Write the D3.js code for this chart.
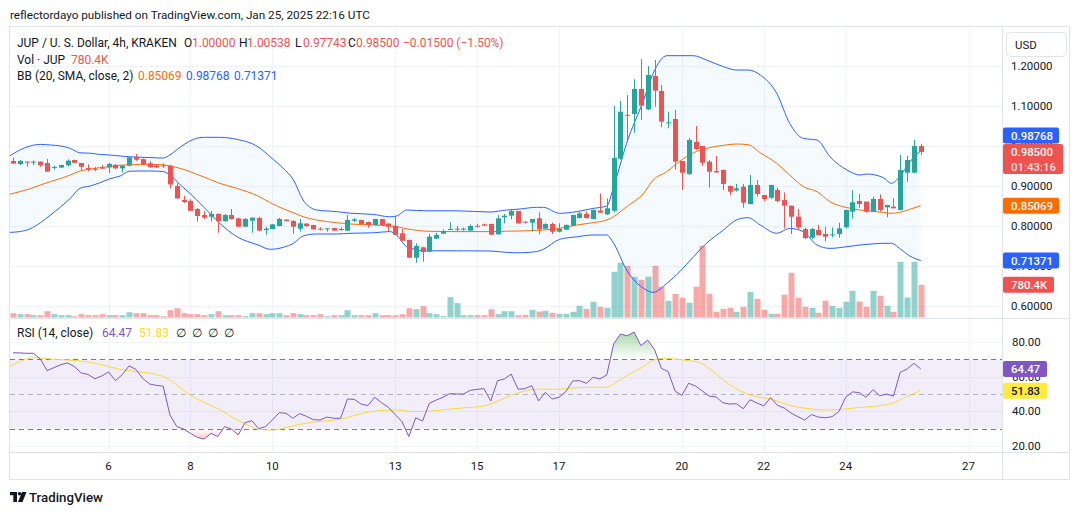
<!DOCTYPE html>
<html><head><meta charset="utf-8">
<script src="https://cdn.jsdelivr.net/npm/d3@7"></script>
<style>
html,body{margin:0;padding:0;background:#fff;}
svg{display:block;}
</style></head><body>
<svg id="c" width="1080" height="515"></svg>
<script>
// ---------------- DATA ----------------
const startTime = Date.UTC(2025, 0, 3, 16); // first 4h candle
const open = [0.9625,0.955,0.961,0.959,0.961,0.9575,0.945,0.946,0.9517,0.965,
0.9575,0.945,0.943,0.946,0.9467,0.953,0.944,0.951,0.9725,0.967,
0.9567,0.9517,0.9517,0.9508,0.9,0.865,0.8625,0.8425,0.8275,0.8233,
0.83,0.8125,0.8275,0.819,0.7983,0.8133,0.82,0.79,0.7925,0.8,
0.816,0.8125,0.7933,0.806,0.8025,0.7933,0.7925,0.795,0.791,0.7883,
0.8133,0.815,0.81,0.8025,0.8175,0.806,0.8008,0.7817,0.765,0.7208,
0.7467,0.7358,0.7683,0.7808,0.7917,0.7917,0.7908,0.7883,0.8008,0.8042,
0.805,0.7792,0.8217,0.8258,0.8375,0.8108,0.8083,0.8192,0.7933,0.805,
0.7858,0.7908,0.8008,0.82,0.83,0.8175,0.8383,0.8292,0.8383,0.9683,
1.078,1.08,1.1425,1.0917,1.175,1.1375,1.0567,1.0675,0.9625,0.93,
1.01,1.0,0.9608,0.9375,0.94,0.9,0.889,0.8983,0.855,0.9025,
0.8775,0.8708,0.89,0.865,0.8508,0.8233,0.7925,0.7708,0.79,0.78,
0.7775,0.78,0.7967,0.8358,0.8625,0.8608,0.8358,0.8675,0.8467,0.8483,
0.84,0.9333,0.9333,1.0];
const high = [0.971,0.965,0.9615,0.964,0.961,0.9675,0.951,0.953,0.9667,0.966,
0.958,0.954,0.948,0.953,0.958,0.955,0.952,0.9733,0.98,0.969,
0.963,0.953,0.9567,0.952,0.907,0.875,0.867,0.845,0.8375,0.8375,
0.832,0.83,0.8425,0.821,0.82,0.822,0.8233,0.798,0.805,0.82,
0.817,0.815,0.8175,0.807,0.803,0.7967,0.795,0.796,0.7967,0.8275,
0.82,0.816,0.811,0.818,0.818,0.807,0.8233,0.7925,0.766,0.7567,
0.748,0.78,0.7833,0.7917,0.809,0.8,0.796,0.8042,0.8058,0.806,
0.806,0.8275,0.83,0.84,0.8383,0.812,0.8175,0.8342,0.807,0.809,
0.8067,0.804,0.828,0.8358,0.8358,0.841,0.8817,0.869,1.1,1.1125,
1.1275,1.1667,1.2175,1.2,1.215,1.1525,1.0858,1.09,0.9625,1.02,
1.05,1.0,0.965,0.975,0.941,0.901,0.905,0.905,0.9275,0.915,
0.878,0.903,0.896,0.884,0.851,0.8425,0.7958,0.7958,0.8025,0.7983,
0.7967,0.8083,0.841,0.89,0.88,0.861,0.8733,0.879,0.853,0.8692,
0.9775,0.975,1.015,1.00538];
const low = [0.955,0.952,0.948,0.9525,0.948,0.935,0.941,0.945,0.949,0.957,
0.94,0.937,0.937,0.942,0.932,0.942,0.934,0.949,0.963,0.953,
0.946,0.945,0.945,0.894,0.867,0.858,0.837,0.811,0.8175,0.811,
0.7833,0.81,0.816,0.797,0.797,0.7833,0.787,0.778,0.792,0.799,
0.812,0.781,0.786,0.798,0.791,0.789,0.786,0.788,0.788,0.787,
0.81,0.804,0.7958,0.802,0.802,0.7875,0.777,0.762,0.72,0.7083,
0.7108,0.735,0.767,0.78,0.791,0.7858,0.788,0.788,0.796,0.8,
0.777,0.778,0.8067,0.8167,0.806,0.806,0.786,0.7792,0.792,0.78,
0.784,0.79,0.8,0.819,0.819,0.817,0.833,0.8275,0.834,0.966,
1.009,1.0333,1.065,1.09,1.0983,1.0467,1.0442,0.9417,0.89,0.928,
0.99,0.95,0.896,0.933,0.89,0.8775,0.886,0.846,0.854,0.8733,
0.8625,0.8675,0.8592,0.794,0.78,0.7925,0.7675,0.7675,0.776,0.7617,
0.7717,0.7708,0.794,0.8183,0.845,0.8333,0.835,0.8358,0.8217,0.844,
0.8392,0.9108,0.932,0.97743];
const close = [0.956,0.9625,0.959,0.961,0.952,0.936,0.9475,0.9525,0.9633,0.958,
0.948,0.9425,0.941,0.944,0.955,0.944,0.951,0.9717,0.9658,0.954,
0.9467,0.947,0.95,0.904,0.869,0.86,0.838,0.825,0.821,0.83,
0.8125,0.8275,0.8175,0.7983,0.8175,0.8208,0.7883,0.7933,0.804,0.8175,
0.8125,0.7983,0.8067,0.8,0.7917,0.7917,0.7942,0.7883,0.7925,0.815,
0.8167,0.805,0.8025,0.8175,0.8025,0.7983,0.7775,0.7633,0.7208,0.75,
0.735,0.7733,0.7775,0.7875,0.7925,0.7933,0.7933,0.8,0.7983,0.8008,
0.7783,0.819,0.8258,0.8375,0.8067,0.8083,0.8175,0.7917,0.805,0.7858,
0.7933,0.8025,0.8275,0.8317,0.82,0.84,0.8333,0.8442,0.97,1.0858,
1.0767,1.1425,1.1008,1.1775,1.1383,1.0608,1.0592,0.9608,0.9333,1.015,
0.9925,0.9583,0.9358,0.9342,0.905,0.8858,0.894,0.8583,0.9025,0.88,
0.8675,0.9025,0.8625,0.8508,0.8233,0.7967,0.77,0.7925,0.7775,0.7733,
0.7792,0.7942,0.84,0.8592,0.855,0.8358,0.8675,0.84,0.8525,0.8442,
0.94,0.965,1.0,0.985];
// volume in thousands of JUP
const volume = [103,79,79,55,55,150,79,55,55,31,
79,55,55,79,55,55,55,127,103,103,
55,55,31,174,222,103,79,79,55,79,
150,55,55,55,31,103,103,79,103,103,
55,103,79,55,55,79,31,55,55,174,
55,55,55,103,55,55,55,79,222,198,
270,103,79,31,485,341,55,55,55,55,
198,79,150,150,55,64,184,143,160,112,
88,88,136,279,208,375,255,232,1091,1306,
1234,972,900,972,1234,733,399,566,473,351,
733,1711,566,136,208,232,136,255,613,446,
184,88,88,542,1067,470,255,232,112,399,
279,232,375,637,382,255,637,518,279,136,
1330,477,1330,780.4];
// Bollinger Bands (20, SMA, close, 2) read at candle positions
const bbIdx = [-0.5,1,2.5,4,5.5,7,8.4,9.8,11.3,12.7,14.2,15.7,17.1,18.6,20.1,22,23,24.5,25.9,27.9,
30.3,32.8,35.9,37.7,39.6,41.1,42.5,44.5,47.4,49.4,52.8,55.2,56.2,57.7,60.6,65,69.9,72.3,74.3,76.7,
77.7,80.1,82.6,85,87,88,89.9,92.4,93.8,95.8,97.7,99.7,101.6,104.1,106,107.7,109.5,111.9,113.8,115.8,
117.8,119.7,122.2,124.1,125.1,127.5,128.7,129.9,131.4,133];
const bbUpper = [0.975,0.99,1.0,1.004,1.0025,1.0,0.994,0.983,0.982,0.979,0.9775,0.975,0.973,0.972,0.971,0.97,0.978,0.997,1.0125,1.0217,
1.0217,1.0167,0.998,0.973,0.944,0.915,0.865,0.84,0.836,0.832,0.829,0.823,0.825,0.84,0.838,0.838,0.835,0.84,0.8425,0.8467,
0.8467,0.8317,0.836,0.844,0.85,0.898,1.0067,1.115,1.1817,1.2258,1.2258,1.2258,1.215,1.1983,1.19,1.19,1.1775,1.1317,1.0567,1.019,
1.015,0.9733,0.94,0.9275,0.93,0.921,0.9067,0.923,0.96,0.98768];
const bbMiddle = [0.879,0.886,0.893,0.9025,0.911,0.919,0.9275,0.9375,0.942,0.946,0.948,0.952,0.953,0.954,0.954,0.953,0.95,0.944,0.936,0.923,
0.9067,0.894,0.875,0.8583,0.843,0.833,0.8233,0.815,0.8083,0.805,0.8025,0.8,0.798,0.793,0.787,0.786,0.786,0.787,0.7875,0.789,
0.79,0.794,0.8025,0.8083,0.815,0.8233,0.8483,0.8817,0.915,0.9358,0.962,0.983,0.994,1.0017,1.005,1.0033,0.983,0.9567,0.9275,0.8983,
0.8858,0.8608,0.846,0.84,0.838,0.834,0.8317,0.834,0.8417,0.85069];
const bbLower = [0.784,0.786,0.793,0.808,0.8275,0.848,0.869,0.894,0.9,0.908,0.918,0.925,0.937,0.9375,0.9375,0.936,0.928,0.903,0.882,0.848,
0.8067,0.7733,0.7525,0.7417,0.7467,0.7567,0.775,0.78,0.78,0.7817,0.783,0.786,0.7775,0.748,0.738,0.738,0.7375,0.734,0.733,0.736,
0.7417,0.7667,0.773,0.7775,0.7775,0.7567,0.69,0.644,0.634,0.6567,0.686,0.723,0.7567,0.79,0.815,0.8208,0.8025,0.7817,0.794,0.7858,
0.7525,0.744,0.7483,0.7525,0.754,0.7567,0.7567,0.744,0.725,0.71371];
// RSI (14, close) per candle
const rsi = [73.8,73.7,73.5,73.5,70.2,63.5,65.2,66.9,67.9,65.8,62.1,61.3,58.8,60.4,62.7,57.7,61.1,66.2,64.2,59.0,55.8,55.0,
54.5,37.9,31.2,29.8,27.3,25.0,24.0,27.3,25.4,31.2,29.8,26.4,33.5,34.6,30.0,31.2,35.0,39.2,38.9,36.0,38.7,37.1,35.2,35.0,36.7,36.0,36.0,
47.1,46.9,44.2,43.3,48.1,45.0,42.3,38.1,34.0,25.4,36.3,34.4,44.6,46.5,48.1,50.2,50.0,50.0,52.1,52.7,53.1,46.0,57.7,58.7,61.5,52.7,53.1,54.8,
46.0,51.0,47.1,48.1,51.4,57.5,57.7,56.2,59.6,58.7,61.0,78.8,84.6,83.6,85.8,77.9,81.2,75.6,64.8,62.9,51.7,
49.2,56.2,54.6,51.7,48.8,48.3,45.0,44.2,44.4,41.5,46.7,44.8,43.1,47.9,43.5,41.9,39.0,36.9,35.0,38.1,36.7,36.3,36.9,
39.8,48.1,51.2,50.8,48.1,52.5,49.0,50.0,48.8,62.5,64.4,67.7,64.47];
// RSI-based moving average, read at candle positions
const rsiMaIdx = [-0.5,1,3,5.6,8.1,10.6,13.2,15.7,18.2,20.7,22.3,24.3,26.3,28.3,30.4,32.4,34.4,36,38,40,
42,44.5,47.1,48.6,51.1,53.7,56.2,58.7,61.3,63.8,66.3,68.9,69.9,71.4,73.9,76.9,79.6,82.2,84.9,87,
88.5,90.1,92.2,93.7,95.3,96.9,99,100.5,102.6,104.7,106.8,108.9,111,114.1,116.2,118.9,121.5,124.1,126.7,128.8,
130.9,133];
const rsiMa = [65.8,68.7,71.0,70.2,69.6,68.7,66.7,64.2,62.9,61.5,59.6,54.2,48.5,44.6,40.8,36.0,32.1,29.6,29.2,30.6,
32.5,34.0,35.0,36.0,38.8,40.4,40.8,39.8,40.2,41.2,42.1,43.1,44.0,46.5,50.5,52.8,52.7,53.5,53.9,53.9,
57.1,61.0,65.4,69.2,70.6,70.2,69.2,68.3,62.9,56.2,51.3,48.5,47.1,43.1,41.7,40.8,41.2,42.3,43.1,44.6,
48.5,51.83];
const dayTicks = [6, 8, 10, 13, 15, 17, 20, 22, 24, 27];
const priceTicks = [0.6, 0.7, 0.8, 0.9, 1.0, 1.1, 1.2];
const rsiTicks = [20, 40, 60, 80];
const rsiLevels = [70, 50, 30];

// ---------------- DRAW ----------------
const svg = d3.select('#c');
const FONT = 'Roboto, "Liberation Sans", Arial, sans-serif';
const TXT = '#131722';
const UP = '#26a69a', DOWN = '#ef5350';
const UPV = 'rgba(38,166,154,0.5)', DOWNV = 'rgba(239,83,80,0.5)';
const GRID = '#f0f3fa', BORDER = '#e0e3eb';
const BLUE = '#2962ff', ORANGE = '#ff6d00', PURPLE = '#7e57c2', YELLOW = '#fdd835';
svg.attr('font-family', FONT);

const plotL = 10, plotR = 1002, mainT = 27, mainB = 318, rsiT = 319, rsiB = 452;
const n = close.length;
const tOf = i => new Date(startTime + i * 4 * 3600 * 1000);
const x = d3.scaleUtc().domain([new Date(startTime), new Date(Date.UTC(2025, 0, 27))]).range([13, 968.5]);
const y = d3.scaleLinear().domain([0.6, 1.2]).range([306, 66]);
const yv = d3.scaleLinear().domain([0, 1800]).range([317.5, 242.1]);
const yr = d3.scaleLinear().domain([20, 80]).range([446, 342]);

svg.append('rect').attr('width', 1080).attr('height', 515).attr('fill', '#fff');

const defs = svg.append('defs');
function clip(id, x0, y0, w, h) {
  defs.append('clipPath').attr('id', id).append('rect').attr('x', x0).attr('y', y0).attr('width', w).attr('height', h);
}
clip('clipMain', plotL, mainT, plotR - plotL, mainB - mainT);
clip('clipRsi', plotL, rsiT, plotR - plotL, rsiB - rsiT);
clip('clipOB', plotL, rsiT, plotR - plotL, yr(70) - rsiT);
clip('clipOS', plotL, yr(30), plotR - plotL, rsiB - yr(30));
const gOB = defs.append('linearGradient').attr('id', 'gradOB').attr('gradientUnits', 'userSpaceOnUse')
  .attr('x1', 0).attr('x2', 0).attr('y1', yr(88)).attr('y2', yr(70));
gOB.append('stop').attr('offset', 0).attr('stop-color', 'rgb(76,175,80)').attr('stop-opacity', 0.55);
gOB.append('stop').attr('offset', 1).attr('stop-color', 'rgb(76,175,80)').attr('stop-opacity', 0.0);
const gOS = defs.append('linearGradient').attr('id', 'gradOS').attr('gradientUnits', 'userSpaceOnUse')
  .attr('x1', 0).attr('x2', 0).attr('y1', yr(30)).attr('y2', yr(20));
gOS.append('stop').attr('offset', 0).attr('stop-color', 'rgb(255,82,82)').attr('stop-opacity', 0.0);
gOS.append('stop').attr('offset', 1).attr('stop-color', 'rgb(255,82,82)').attr('stop-opacity', 0.5);

// grid
const grid = svg.append('g').attr('stroke', GRID).attr('stroke-width', 1);
dayTicks.forEach(d => {
  const gx = Math.round(x(new Date(Date.UTC(2025, 0, d)))) + 0.5;
  grid.append('line').attr('x1', gx).attr('x2', gx).attr('y1', mainT).attr('y2', mainB);
  grid.append('line').attr('x1', gx).attr('x2', gx).attr('y1', rsiT).attr('y2', rsiB);
});
priceTicks.forEach(p => {
  const gy = Math.round(y(p)) + 0.5;
  grid.append('line').attr('x1', plotL).attr('x2', plotR).attr('y1', gy).attr('y2', gy);
});
rsiTicks.forEach(v => {
  const gy = Math.round(yr(v)) + 0.5;
  grid.append('line').attr('x1', plotL).attr('x2', plotR).attr('y1', gy).attr('y2', gy);
});

// ---- main pane ----
const main = svg.append('g').attr('clip-path', 'url(#clipMain)');
const idx = d3.range(n);
const cx = i => Math.round(x(tOf(i)));
const isUp = i => close[i] >= open[i];

// volume
main.append('g').selectAll('rect').data(idx).join('rect')
  .attr('x', i => cx(i) - 2.5).attr('width', 6)
  .attr('y', i => yv(volume[i])).attr('height', i => yv(0) - yv(volume[i]))
  .attr('fill', i => isUp(i) ? UPV : DOWNV);

// Bollinger bands
const bb = bbIdx.map((k, j) => ({ k, u: bbUpper[j], m: bbMiddle[j], l: bbLower[j] }));
const bx = d => x(tOf(d.k));
main.append('path').datum(bb)
  .attr('d', d3.area().x(bx).y0(d => y(d.l)).y1(d => y(d.u)).curve(d3.curveMonotoneX))
  .attr('fill', 'rgba(33,150,243,0.05)');
[['u', BLUE], ['l', BLUE], ['m', ORANGE]].forEach(([key, col]) => {
  main.append('path').datum(bb)
    .attr('d', d3.line().x(bx).y(d => y(d[key])).curve(d3.curveMonotoneX))
    .attr('fill', 'none').attr('stroke', col).attr('stroke-width', 1);
});

// candles
const cg = main.append('g');
cg.selectAll('line').data(idx).join('line')
  .attr('x1', i => cx(i) + 0.5).attr('x2', i => cx(i) + 0.5)
  .attr('y1', i => y(high[i])).attr('y2', i => y(low[i]))
  .attr('stroke', i => isUp(i) ? UP : DOWN).attr('stroke-width', 1);
cg.selectAll('rect').data(idx).join('rect')
  .attr('x', i => cx(i) - 2).attr('width', 5)
  .attr('y', i => y(Math.max(open[i], close[i])))
  .attr('height', i => Math.max(1, Math.abs(y(open[i]) - y(close[i]))))
  .attr('fill', i => isUp(i) ? UP : DOWN);

// ---- RSI pane ----
const rg = svg.append('g').attr('clip-path', 'url(#clipRsi)');
rg.append('rect').attr('x', plotL).attr('width', plotR - plotL)
  .attr('y', yr(70)).attr('height', yr(30) - yr(70)).attr('fill', 'rgba(126,87,194,0.1)');
rsiLevels.forEach(v => {
  const ly = Math.round(yr(v)) + 0.5;
  rg.append('line').attr('x1', plotL).attr('x2', plotR).attr('y1', ly).attr('y2', ly)
    .attr('stroke', '#787b86').attr('stroke-opacity', v === 50 ? 0.5 : 1)
    .attr('stroke-dasharray', '5,4').attr('stroke-width', 1);
});
const rx = i => x(tOf(i));
rg.append('g').attr('clip-path', 'url(#clipOB)').append('path').datum(idx)
  .attr('d', d3.area().x(rx).y0(yr(70)).y1(i => yr(rsi[i])))
  .attr('fill', 'url(#gradOB)');
rg.append('g').attr('clip-path', 'url(#clipOS)').append('path').datum(idx)
  .attr('d', d3.area().x(rx).y0(yr(30)).y1(i => yr(rsi[i])))
  .attr('fill', 'url(#gradOS)');
const ma = rsiMaIdx.map((k, j) => ({ k, v: rsiMa[j] }));
rg.append('path').datum(ma)
  .attr('d', d3.line().x(d => x(tOf(d.k))).y(d => yr(d.v)).curve(d3.curveMonotoneX))
  .attr('fill', 'none').attr('stroke', YELLOW).attr('stroke-width', 1);
rg.append('path').datum(idx)
  .attr('d', d3.line().x(rx).y(i => yr(rsi[i])))
  .attr('fill', 'none').attr('stroke', PURPLE).attr('stroke-width', 1);

// ---- frame / separators ----
const fr = svg.append('g').attr('stroke', BORDER).attr('fill', 'none');
fr.append('rect').attr('x', 9.5).attr('y', 26.5).attr('width', 1060).attr('height', 453);
fr.append('line').attr('x1', 1002.5).attr('x2', 1002.5).attr('y1', 26.5).attr('y2', 479.5);
fr.append('line').attr('x1', 9.5).attr('x2', 1069.5).attr('y1', 318.5).attr('y2', 318.5);
fr.append('line').attr('x1', 9.5).attr('x2', 1069.5).attr('y1', 452.5).attr('y2', 452.5);

// ---- text helpers ----
function text(x0, y0, s, fill, size, anchor, weight) {
  return svg.append('text').attr('x', x0).attr('y', y0).text(s)
    .attr('fill', fill || TXT).attr('font-size', size || 13)
    .attr('text-anchor', anchor || 'start').attr('font-weight', weight || 400)
    .attr('dominant-baseline', 'central');
}
// font size that makes string s occupy width w
function sizeFor(s, w, weight) {
  const t = text(-1000, -1000, s, TXT, 20, 'start', weight);
  const l = t.node().getComputedTextLength();
  t.remove();
  return 20 * w / l;
}

// title
text(10, 15, 'reflectordayo published on TradingView.com, Jan 25, 2025 22:16 UTC', TXT,
  sizeFor('reflectordayo published on TradingView.com, Jan 25, 2025 22:16 UTC', 360));

// legend main
const LF = sizeFor('JUP / U. S. Dollar, 4h, KRAKEN', 160);
const L1 = 43;
text(17, L1, 'JUP / U. S. Dollar, 4h, KRAKEN', TXT, LF);
[['O', '1.00000', 184], ['H', '1.00538', 239], ['L', '0.97743', 295], ['C', '0.98500', 348]].forEach(([k, v, px]) => {
  text(px, L1, k, TXT, LF);
  text(px + 8, L1, v, DOWN, LF);
});
text(403, L1, '\u22120.01500 (\u22121.50%)', DOWN, LF);
text(17, 59.5, 'Vol \u00b7 JUP', TXT, LF);
text(71, 59.5, '780.4K', DOWN, LF);
text(17, 76, 'BB (20, SMA, close, 2)', TXT, LF);
text(138, 76, '0.85069', ORANGE, LF);
text(186, 76, '0.98768', BLUE, LF);
text(234, 76, '0.71371', BLUE, LF);

// legend RSI
text(17, 333, 'RSI (14, close)', TXT, LF);
text(102, 333, '64.47', PURPLE, LF);
text(139, 333, '51.83', YELLOW, LF);
[176, 192, 208, 224].forEach(px => text(px, 333, '\u2205', TXT, LF));

// ---- price / RSI axes ----
const AF = sizeFor('1.20000', 41.5);
const lastClose = close[n - 1];
const redTop = y(lastClose) - 8;
const tags = [
  { yc: redTop + 15, h: 30, w: 60, bg: DOWN, lines: [['0.98500', '#fff', -7], ['01:43:16', 'rgba(255,255,255,0.8)', 7.5]] },
  { yc: Math.min(y(bbUpper[bbUpper.length - 1]), redTop - 8.5), h: 16, w: 56, bg: BLUE, lines: [['0.98768', '#fff', 0]] },
  { yc: y(bbMiddle[bbMiddle.length - 1]), h: 16, w: 56, bg: ORANGE, lines: [['0.85069', '#fff', 0]] },
  { yc: y(bbLower[bbLower.length - 1]), h: 16, w: 56, bg: BLUE, lines: [['0.71371', '#fff', 0]] },
  { yc: yv(volume[n - 1]), h: 16, w: 51, bg: DOWN, lines: [['780.4K', '#fff', 0]] },
  { yc: yr(rsi[n - 1]), h: 16, w: 44, bg: PURPLE, lines: [['64.47', '#fff', 0]] },
  { yc: yr(rsiMa[rsiMa.length - 1]), h: 16, w: 44, bg: '#ffeb3b', lines: [['51.83', TXT, 0]] }
];
// a tick label that a tag fully covers is not drawn
const covered = yy => tags.some(t => Math.abs(yy - t.yc) < t.h / 2 - 3);
priceTicks.forEach(p => { if (!covered(y(p))) text(1011, y(p), d3.format('.5f')(p), TXT, AF); });
rsiTicks.forEach(v => { if (!covered(yr(v))) text(1012, yr(v), d3.format('.2f')(v), TXT, AF); });

// USD button
svg.append('rect').attr('x', 1006.5).attr('y', 32.5).attr('width', 60).attr('height', 24).attr('rx', 4)
  .attr('fill', '#fff').attr('stroke', BORDER);
text(1015, 45, 'USD', TXT, AF);

tags.forEach(t => {
  svg.append('rect').attr('x', 1003).attr('y', t.yc - t.h / 2).attr('width', t.w).attr('height', t.h).attr('rx', 2).attr('fill', t.bg);
  t.lines.forEach(([s, col, dy]) => text(1011, t.yc + dy, s, col, AF, 'start', 500));
});

// time axis
dayTicks.forEach(d => text(x(new Date(Date.UTC(2025, 0, d))), 466, String(d), TXT, AF, 'middle'));

// TradingView logo
const logo = svg.append('g').attr('fill', TXT);
logo.append('rect').attr('x', 10).attr('y', 492).attr('width', 7).attr('height', 3.2);
logo.append('rect').attr('x', 13.3).attr('y', 492).attr('width', 3.7).attr('height', 10);
logo.append('circle').attr('cx', 19.6).attr('cy', 493.8).attr('r', 1.8);
logo.append('polygon').attr('points', '22,492 26.5,492 22.5,502 18,502');
text(29, 497.5, 'TradingView', TXT, sizeFor('TradingView', 74, 500), 'start', 500);
</script>
</body></html>
